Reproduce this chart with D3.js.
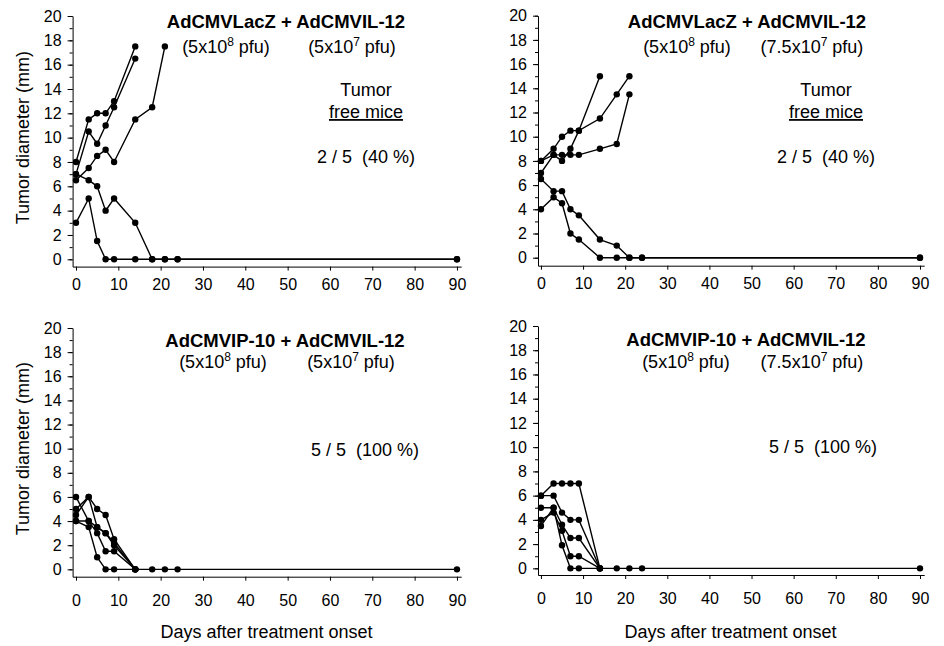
<!DOCTYPE html>
<html>
<head>
<meta charset="utf-8">
<script src="https://cdn.jsdelivr.net/npm/d3@7"></script>
<style>
  body { margin: 0; background: #fff; }
  svg { display: block; font-family: "Liberation Sans", Arial, sans-serif; }
  .axis path, .axis line { stroke: #000; stroke-width: 1; }
  .axis text { font-size: 16px; fill: #000; }
</style>
</head>
<body>
<svg id="chart" width="944" height="646"></svg>
<script>
// measurement days (last one is day 90)
var days = [0, 3, 5, 7, 9, 14, 18, 21, 24, 90];
var xTicks = [0, 10, 20, 30, 40, 50, 60, 70, 80, 90];
var yTicks = [0, 2, 4, 6, 8, 10, 12, 14, 16, 18, 20];
var yMinor = d3.range(0, 21);

// tumor diameter (mm) per mouse, one value per day above
var laczIl50 = [
  [8, 11.5, 12, 12, 13, 17.5],
  [7, 10.5, 9.5, 11, 12.5, 16.5],
  [6.5, 7.5, 8.5, 9, 8, 11.5, 12.5, 17.5],
  [7, 6.5, 6, 4, 5, 3, 0, 0, 0, 0],
  [3, 5, 1.5, 0, 0, 0, 0, 0, 0, 0]
];
var laczIl75 = [
  [8, 9, 10, 10.5, 10.5, 11.5, 13.5, 15],
  [7, 8.5, 8, 9, 10.5, 15],
  [8, 8.5, 8.5, 8.5, 8.5, 9, 9.4, 13.5],
  [6.5, 5.5, 5.5, 4, 3.5, 1.5, 1, 0, 0, 0],
  [4, 5, 4.5, 2, 1.5, 0, 0, 0, 0, 0]
];
var ip10Il50 = [
  [5, 6, 5, 4.5, 2.5, 0],
  [4.5, 6, 3.5, 3, 2.2, 0],
  [6, 4, 3, 1.5, 1.5, 0],
  [4, 3.5, 1, 0, 0, 0, 0, 0, 0, 0],
  [4, 4, 3.5, 3, 2, 0]
];
var ip10Il75 = [
  [6, 7, 7, 7, 7, 0],
  [6, 6, 4.6, 4, 4, 0],
  [5, 5, 3.6, 2.5, 2.5, 0],
  [4, 4.6, 3.1, 1, 1, 0],
  [3.5, 5, 1.9, 0, 0, 0, 0, 0, 0, 0]
];

var titles = ["AdCMVLacZ + AdCMVIL-12", "AdCMVLacZ + AdCMVIL-12",
              "AdCMVIP-10 + AdCMVIL-12", "AdCMVIP-10 + AdCMVIL-12"];
var doses = [["5", "8", "5", "7"], ["5", "8", "7.5", "7"],
             ["5", "8", "5", "7"], ["5", "8", "7.5", "7"]];
var cures = ["2 / 5  (40 %)", "2 / 5  (40 %)", "5 / 5  (100 %)", "5 / 5  (100 %)"];

var svg = d3.select("#chart");

var panels = [
  { data: laczIl50, x0: 72.6, x1: 461.2, xd: [-0.8, 91], y0: 266.6, y1: 16, yd: [-0.6, 20],
    tx: 286, ty: 28, s1: 226, s2: 352, sy: 53, cx: 366, cy: 163, tumor: true, xlab: false, ylab: true, pad: 8 },
  { data: laczIl75, x0: 538, x1: 924.2, xd: [-0.7, 91], y0: 265.7, y1: 15.7, yd: [-0.66, 20],
    tx: 747, ty: 28, s1: 687, s2: 812, sy: 53, cx: 826, cy: 163, tumor: true, xlab: false, ylab: false, pad: 8 },
  { data: ip10Il50, x0: 72.6, x1: 461.2, xd: [-0.8, 91], y0: 576.7, y1: 328, yd: [-0.61, 20],
    tx: 285, ty: 347, s1: 223, s2: 351, sy: 368, cx: 365, cy: 456, tumor: false, xlab: true, ylab: true, pad: 14 },
  { data: ip10Il75, x0: 538, x1: 924.2, xd: [-0.7, 91], y0: 575, y1: 326, yd: [-0.55, 20],
    tx: 746, ty: 346, s1: 686, s2: 812, sy: 368, cx: 823, cy: 453, tumor: false, xlab: true, ylab: false, pad: 14 }
];

function dose(g, cx, y, mant, expo) {
  var t = g.append("text").attr("x", cx).attr("y", y)
    .attr("text-anchor", "middle").style("font-size", "18px");
  t.append("tspan").text("(" + mant + "x10");
  t.append("tspan").attr("dy", -7).style("font-size", "12px").text(expo);
  t.append("tspan").attr("dy", 7).text(" pfu)");
}

panels.forEach(function(p, i) {
  var x = d3.scaleLinear().domain(p.xd).range([p.x0, p.x1]);
  var y = d3.scaleLinear().domain(p.yd).range([p.y0, p.y1]);
  var g = svg.append("g");

  // minor y ticks
  g.append("g").attr("class", "axis")
    .attr("transform", "translate(" + p.x0 + ",0)")
    .call(d3.axisLeft(y).tickValues(yMinor).tickSize(3).tickFormat(""))
    .select(".domain").remove();

  g.append("g").attr("class", "axis")
    .attr("transform", "translate(" + p.x0 + ",0)")
    .call(d3.axisLeft(y).tickValues(yTicks).tickSize(5).tickSizeOuter(0).tickPadding(6));

  g.append("g").attr("class", "axis")
    .attr("transform", "translate(0," + p.y0 + ")")
    .call(d3.axisBottom(x).tickValues(xTicks).tickSize(4).tickSizeOuter(0).tickPadding(p.pad));

  var line = d3.line()
    .x(function(d) { return x(d.day); })
    .y(function(d) { return y(d.v); });

  p.data.forEach(function(mouse) {
    var pts = mouse.map(function(v, k) { return { day: days[k], v: v }; });
    g.append("path").datum(pts)
      .attr("d", line).attr("fill", "none")
      .attr("stroke", "#000").attr("stroke-width", 1.4);
    g.selectAll(null).data(pts).enter().append("circle")
      .attr("cx", function(d) { return x(d.day); })
      .attr("cy", function(d) { return y(d.v); })
      .attr("r", 3.2).attr("fill", "#000");
  });

  g.append("text").attr("x", p.tx).attr("y", p.ty)
    .attr("text-anchor", "middle").style("font-size", "18.5px").style("font-weight", "bold")
    .text(titles[i]);
  dose(g, p.s1, p.sy, doses[i][0], doses[i][1]);
  dose(g, p.s2, p.sy, doses[i][2], doses[i][3]);

  if (p.tumor) {
    g.append("text").attr("x", p.cx).attr("y", 96)
      .attr("text-anchor", "middle").style("font-size", "18px").text("Tumor");
    g.append("text").attr("x", p.cx).attr("y", 118)
      .attr("text-anchor", "middle").style("font-size", "18px")
      .style("text-decoration", "underline").text("free mice");
  }
  g.append("text").attr("x", p.cx).attr("y", p.cy)
    .attr("text-anchor", "middle").style("font-size", "18px")
    .style("white-space", "pre").attr("xml:space", "preserve")
    .text(cures[i]);

  // y axis title, left column only
  if (p.ylab) {
    var ym = (y(20) + y(0)) / 2;
    g.append("text")
      .attr("transform", "translate(29," + ym + ") rotate(-90)")
      .attr("text-anchor", "middle").style("font-size", "18px")
      .text("Tumor diameter (mm)");
  }

  if (p.xlab) {
    g.append("text").attr("x", (x(0) + x(90)) / 2).attr("y", 638)
      .attr("text-anchor", "middle").style("font-size", "18px")
      .text("Days after treatment onset");
  }
});
</script>
</body>
</html>
